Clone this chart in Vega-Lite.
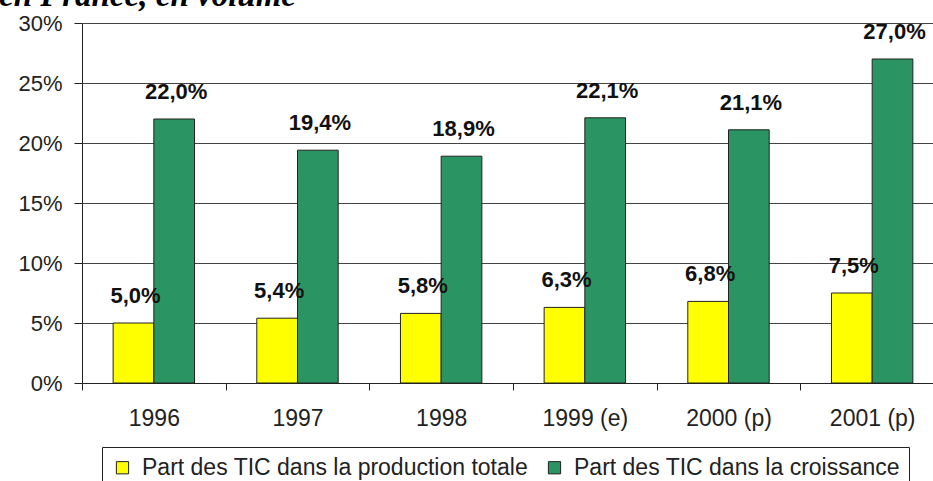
{
  "$schema": "https://vega.github.io/schema/vega-lite/v6.json",
  "autosize": "none",
  "width": 851,
  "height": 360,
  "padding": {"left": 82, "top": 23, "right": 0, "bottom": 98},
  "background": "white",
  "title": {
    "text": "en France, en volume",
    "font": "Liberation Serif",
    "fontStyle": "italic",
    "fontWeight": "bold",
    "fontSize": 33,
    "color": "black",
    "anchor": "start",
    "frame": "group",
    "baseline": "alphabetic",
    "dx": -83,
    "dy": 27,
    "offset": 0
  },
  "data": {
    "values": [
      {"annee": "1996", "serie": "Part des TIC dans la production totale", "valeur": 0.050},
      {"annee": "1996", "serie": "Part des TIC dans la croissance", "valeur": 0.220},
      {"annee": "1997", "serie": "Part des TIC dans la production totale", "valeur": 0.054},
      {"annee": "1997", "serie": "Part des TIC dans la croissance", "valeur": 0.194},
      {"annee": "1998", "serie": "Part des TIC dans la production totale", "valeur": 0.058},
      {"annee": "1998", "serie": "Part des TIC dans la croissance", "valeur": 0.189},
      {"annee": "1999 (e)", "serie": "Part des TIC dans la production totale", "valeur": 0.063},
      {"annee": "1999 (e)", "serie": "Part des TIC dans la croissance", "valeur": 0.221},
      {"annee": "2000 (p)", "serie": "Part des TIC dans la production totale", "valeur": 0.068},
      {"annee": "2000 (p)", "serie": "Part des TIC dans la croissance", "valeur": 0.211},
      {"annee": "2001 (p)", "serie": "Part des TIC dans la production totale", "valeur": 0.075},
      {"annee": "2001 (p)", "serie": "Part des TIC dans la croissance", "valeur": 0.270}
    ]
  },
  "encoding": {
    "x": {
      "field": "annee",
      "type": "nominal",
      "sort": null,
      "title": null,
      "scale": {"paddingInner": 0, "paddingOuter": 0, "range": [0, 862]},
      "axis": {
        "labelAngle": 0,
        "tickBand": "extent",
        "grid": false,
        "domainColor": "#222",
        "tickColor": "#222",
        "tickSize": 7,
        "labelPadding": 17,
        "labelFont": "Liberation Sans",
        "labelFontSize": 23,
        "labelColor": "#222"
      }
    },
    "xOffset": {
      "field": "serie",
      "type": "nominal",
      "sort": ["Part des TIC dans la production totale", "Part des TIC dans la croissance"],
      "scale": {"paddingInner": 0, "paddingOuter": 0.765}
    },
    "y": {
      "field": "valeur",
      "type": "quantitative",
      "title": null,
      "scale": {"domain": [0, 0.3], "nice": false},
      "axis": {
        "values": [0, 0.05, 0.1, 0.15, 0.2, 0.25, 0.3],
        "format": ".0%",
        "grid": true,
        "gridColor": "#444",
        "gridWidth": 1,
        "domainColor": "#222",
        "tickColor": "#222",
        "tickSize": 8,
        "labelPadding": 12,
        "labelFont": "Liberation Sans",
        "labelFontSize": 22,
        "labelColor": "#222"
      }
    }
  },
  "layer": [
    {
      "mark": {"type": "bar", "stroke": "#222", "strokeWidth": 1},
      "encoding": {
        "color": {
          "field": "serie",
          "type": "nominal",
          "scale": {
            "domain": ["Part des TIC dans la production totale", "Part des TIC dans la croissance"],
            "range": ["#FFFF00", "#2A9562"]
          },
          "legend": {
            "orient": "none",
            "legendX": 20,
            "legendY": 424,
            "direction": "horizontal",
            "title": null,
            "strokeColor": "#222",
            "fillColor": "white",
            "padding": 9,
            "labelFontSize": 23,
            "labelFont": "Liberation Sans",
            "labelColor": "#222",
            "labelLimit": 600,
            "symbolType": "square",
            "symbolSize": 150,
            "symbolStrokeColor": "#222",
            "symbolStrokeWidth": 1,
            "symbolOpacity": 1,
            "columnPadding": 14,
            "labelOffset": 8
          }
        }
      }
    },
    {
      "mark": {
        "type": "text",
        "font": "Liberation Sans",
        "fontWeight": "bold",
        "fontSize": 22,
        "color": "#111",
        "baseline": "alphabetic",
        "align": "center",
        "dy": -20,
        "dx": 2
      },
      "encoding": {
        "text": {"field": "valeur", "type": "quantitative", "format": ".1%"}
      }
    }
  ],
  "config": {
    "locale": {
      "number": {"decimal": ",", "thousands": " ", "grouping": [3], "currency": ["", " €"]}
    },
    "view": {"stroke": null}
  }
}
